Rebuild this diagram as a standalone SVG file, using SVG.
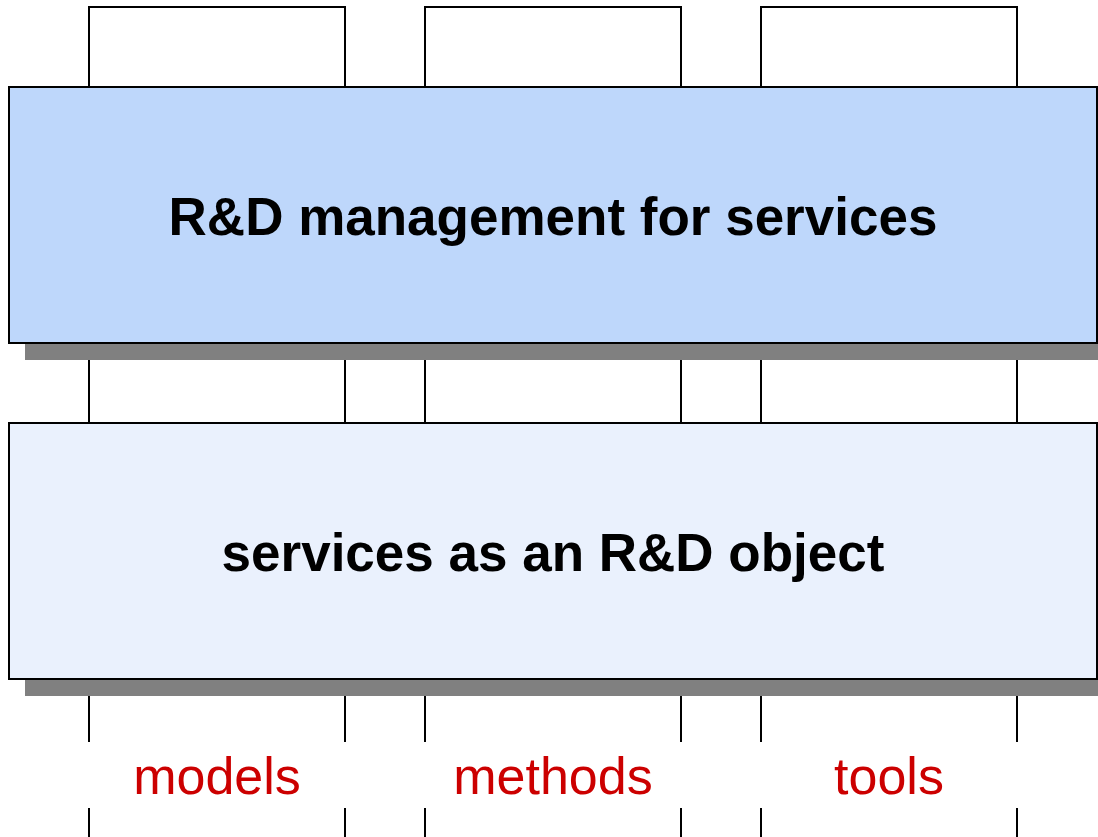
<svg xmlns="http://www.w3.org/2000/svg" width="1098" height="837" viewBox="0 0 1098 837">
<style>
.pillar{fill:#ffffff;stroke:#000000;stroke-width:2}
.line{stroke:#000000;stroke-width:2;fill:none}
.shadow{fill:#808080}
.box{stroke:#000000;stroke-width:2}
.title{font-family:"Liberation Sans",Arial,sans-serif;font-weight:bold;font-size:53px;fill:#000000;text-anchor:middle}
.label{font-family:"Liberation Sans",Arial,sans-serif;font-size:52px;fill:#cc0000;text-anchor:middle}
</style>
<rect width="1098" height="837" fill="#ffffff"/>
<g id="pillars-top">
<rect class="pillar" x="89" y="7" width="256" height="90"/>
<rect class="pillar" x="425" y="7" width="256" height="90"/>
<rect class="pillar" x="761" y="7" width="256" height="90"/>
</g>
<g id="connectors">
<line class="line" x1="89" y1="359" x2="89" y2="423"/>
<line class="line" x1="345" y1="359" x2="345" y2="423"/>
<line class="line" x1="425" y1="359" x2="425" y2="423"/>
<line class="line" x1="681" y1="359" x2="681" y2="423"/>
<line class="line" x1="761" y1="359" x2="761" y2="423"/>
<line class="line" x1="1017" y1="359" x2="1017" y2="423"/>
<line class="line" x1="89" y1="695" x2="89" y2="742"/>
<line class="line" x1="345" y1="695" x2="345" y2="742"/>
<line class="line" x1="425" y1="695" x2="425" y2="742"/>
<line class="line" x1="681" y1="695" x2="681" y2="742"/>
<line class="line" x1="761" y1="695" x2="761" y2="742"/>
<line class="line" x1="1017" y1="695" x2="1017" y2="742"/>
<line class="line" x1="89" y1="808" x2="89" y2="837"/>
<line class="line" x1="345" y1="808" x2="345" y2="837"/>
<line class="line" x1="425" y1="808" x2="425" y2="837"/>
<line class="line" x1="681" y1="808" x2="681" y2="837"/>
<line class="line" x1="761" y1="808" x2="761" y2="837"/>
<line class="line" x1="1017" y1="808" x2="1017" y2="837"/>
</g>
<g id="rd-management">
<rect class="shadow" x="25" y="103" width="1073" height="257"/>
<rect class="box" x="9" y="87" width="1088" height="256" fill="#bed7fb"/>
<text class="title" x="553" y="235">R&amp;D management for services</text>
</g>
<g id="services-object">
<rect class="shadow" x="25" y="439" width="1073" height="257"/>
<rect class="box" x="9" y="423" width="1088" height="256" fill="#eaf1fd"/>
<text class="title" x="553" y="571">services as an R&amp;D object</text>
</g>
<g id="labels">
<text class="label" x="217" y="794">models</text>
<text class="label" x="553" y="794">methods</text>
<text class="label" x="889" y="794">tools</text>
</g>
</svg>
